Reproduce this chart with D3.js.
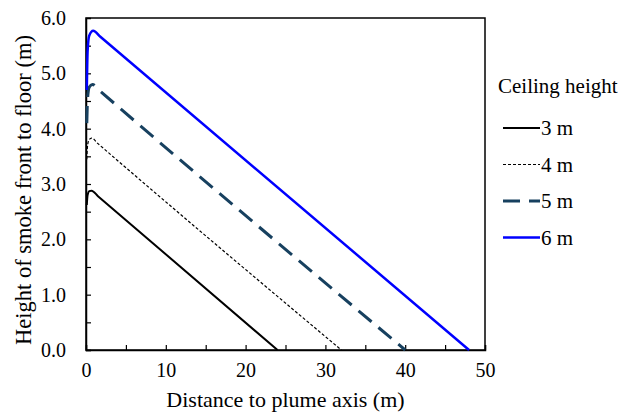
<!DOCTYPE html>
<meta charset="utf-8">
<script src="https://d3js.org/d3.v7.min.js"></script>
<style>
  body { margin: 0; background: #fff; }
  svg text { font-family: "Liberation Serif", "Times New Roman", serif !important; fill: #000; }
</style>
<div id="my_dataviz"></div>
<script>
// series (x = distance in m, y = height in m)
var labels = ["3 m", "4 m", "5 m", "6 m"];
var x3 = [0.1, 0.2, 0.4, 0.7, 1.5, 24], y3 = [2.62, 2.8, 2.87, 2.88, 2.78, 0];
var x4 = [0.1, 0.2, 0.4, 0.7, 1.5, 32], y4 = [3.45, 3.7, 3.8, 3.83, 3.73, 0];
var x5 = [0.1, 0.2, 0.4, 0.8, 1.6, 40], y5 = [4.1, 4.55, 4.75, 4.8, 4.7, 0];
var x6 = [0.1, 0.2, 0.4, 0.9, 1.8, 48], y6 = [4.7, 5.4, 5.68, 5.77, 5.66, 0];
var xTicks = [0, 10, 20, 30, 40, 50];
var yTicks = [0, 1, 2, 3, 4, 5, 6];

var series = [
  {name: labels[0], xs: x3, ys: y3, color: "#000000", width: 2, dash: null},
  {name: labels[1], xs: x4, ys: y4, color: "#000000", width: 1.2, dash: "3,2"},
  {name: labels[2], xs: x5, ys: y5, color: "#17405f", width: 3, dash: "17,9"},
  {name: labels[3], xs: x6, ys: y6, color: "#0000ff", width: 2.5, dash: null}
];

var margin = {top: 18, right: 148, bottom: 67, left: 86},
    width = 633 - margin.left - margin.right,
    height = 417 - margin.top - margin.bottom;

var svg = d3.select("#my_dataviz")
  .append("svg")
    .attr("width", 633)
    .attr("height", 417)
  .append("g")
    .attr("transform", "translate(" + margin.left + "," + margin.top + ")");

var x = d3.scaleLinear().domain([0, 50]).range([0, width]);
var y = d3.scaleLinear().domain([0, 6]).range([height, 0]);

// frame
svg.append("rect")
  .attr("width", width).attr("height", height)
  .attr("fill", "none").attr("stroke", "#000").attr("stroke-width", 1.5);

// x axis, ticks pointing inward
var xAxis = svg.append("g")
  .attr("transform", "translate(0," + height + ")")
  .call(d3.axisBottom(x).tickValues(d3.range(0, 51, 5)).tickSize(-5).tickPadding(13)
    .tickFormat(function(d) { return xTicks.indexOf(d) >= 0 ? d : ""; }));
xAxis.attr("font-family", null);
xAxis.select(".domain").attr("stroke-width", 1.5);
xAxis.selectAll("line").attr("stroke-width", 1.2);
xAxis.selectAll("text").attr("font-size", 20);

// y axis
var yAxis = svg.append("g")
  .call(d3.axisLeft(y).tickValues(d3.range(0, 6.01, 0.5)).tickSize(-5).tickPadding(20)
    .tickFormat(function(d) { return yTicks.indexOf(d) >= 0 ? d3.format(".1f")(d) : ""; }));
yAxis.attr("font-family", null);
yAxis.select(".domain").attr("stroke-width", 1.5);
yAxis.selectAll("line").attr("stroke-width", 1.2);
yAxis.selectAll("text").attr("font-size", 20);
yAxis.selectAll(".tick").filter(function(d) { return d === 6; }).select("line").remove();

// axis titles
svg.append("text")
  .attr("x", width / 2).attr("y", height + 57)
  .attr("text-anchor", "middle").attr("font-size", 22)
  .text("Distance to plume axis (m)");
svg.append("text")
  .attr("transform", "translate(-55," + (height / 2 + 6) + ") rotate(-90)")
  .attr("text-anchor", "middle").attr("font-size", 22.5)
  .text("Height of smoke front to floor (m)");

// lines
var line = d3.line()
  .x(function(d) { return x(d[0]); })
  .y(function(d) { return y(d[1]); })
  .curve(d3.curveMonotoneX);

series.forEach(function(s) {
  var pts = s.xs.map(function(v, i) { return [v, s.ys[i]]; });
  svg.append("path")
    .datum(pts)
    .attr("d", line)
    .attr("fill", "none")
    .attr("stroke", s.color)
    .attr("stroke-width", s.width)
    .attr("stroke-dasharray", s.dash);
});

// legend
var legend = svg.append("g").attr("transform", "translate(" + (width + 13) + ",0)");
legend.append("text").attr("x", 0).attr("y", 75).attr("font-size", 21).text("Ceiling height");
series.forEach(function(s, i) {
  var ly = 110 + i * 36.5;
  legend.append("line")
    .attr("x1", 5).attr("x2", 42).attr("y1", ly).attr("y2", ly)
    .attr("stroke", s.color).attr("stroke-width", s.width)
    .attr("stroke-dasharray", s.dash);
  legend.append("text").attr("x", 43).attr("y", ly + 7).attr("font-size", 21).text(s.name);
});
</script>
